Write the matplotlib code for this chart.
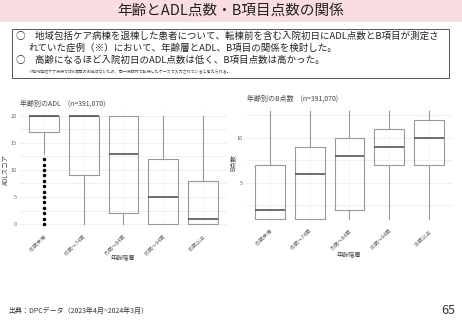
import numpy as np
import matplotlib.pyplot as plt
from matplotlib.patches import Rectangle

plt.rcParams['font.family'] = ['Noto Sans CJK JP', 'DejaVu Sans']

# données
groupes = ["65歳未満", "65歳～74歳", "75歳～84歳", "85歳～94歳", "95歳以上"]

adl_q1 = [17, 9, 2, 0, 0]
adl_med = [20, 20, 13, 5, 1]
adl_q3 = [20, 20, 20, 12, 8]
adl_bas = [13, 0, 0, 0, 0]
adl_haut = [20, 20, 20, 20, 20]
adl_outliers = [list(range(0, 13)), [], [], [], []]

b_q1 = [1, 1, 2, 7, 7]
b_med = [2, 6, 8, 9, 10]
b_q3 = [7, 9, 10, 11, 12]
b_bas = [1, 1, 1, 1, 1]
b_haut = [13, 13, 13, 13, 13]


def stats(q1, med, q3, bas, haut, fl=None):
    out = []
    for i in range(len(q1)):
        out.append(dict(q1=q1[i], med=med[i], q3=q3[i], whislo=bas[i], whishi=haut[i],
                        fliers=fl[i] if fl else []))
    return out


fig = plt.figure(figsize=(4.62, 3.2), dpi=100)

# bandeau titre
fig.patches.append(Rectangle((0, 1 - 22 / 320), 1, 22 / 320, transform=fig.transFigure,
                             facecolor="#fadde3", edgecolor="none", zorder=0))
fig.text(0.5, 1 - 11 / 320, "年齢とADL点数・B項目点数の関係", ha="center", va="center",
         fontsize=10.5, color="#222222")

# encadré
fig.patches.append(Rectangle((12 / 462, 1 - 78 / 320), (449 - 12) / 462, 49 / 320,
                             transform=fig.transFigure, facecolor="white",
                             edgecolor="#555555", linewidth=0.7))
fig.text(16 / 462, 1 - 36 / 320, "○　地域包括ケア病棟を退棟した患者について、転棟前を含む入院初日にADL点数とB項目が測定さ",
         fontsize=6.8, va="center", color="#222222")
fig.text(28 / 462, 1 - 48 / 320, "れていた症例（※）において、年齢層とADL、B項目の関係を検討した。",
         fontsize=6.8, va="center", color="#222222")
fig.text(16 / 462, 1 - 60 / 320, "○　高齢になるほど入院初日のADL点数は低く、B項目点数は高かった。",
         fontsize=6.8, va="center", color="#222222")
fig.text(28 / 462, 1 - 71.5 / 320, "※地域包括ケア病棟ではB項目の測定はないため、同一病院内で転棟したケースで入力されていると考えられる。",
         fontsize=2.9, va="center", color="#444444")

ax1 = fig.add_axes([20.2 / 462, 0.283, 0.447, 0.372])
ax2 = fig.add_axes([246.2 / 462, 0.2997, 0.447, 0.371])

boxprops = dict(color="#999999", linewidth=0.8)
kw = dict(widths=0.75, patch_artist=False, boxprops=boxprops,
          whiskerprops=dict(color="#999999", linewidth=0.8),
          capprops=dict(linewidth=0),
          medianprops=dict(color="#555555", linewidth=1.2),
          flierprops=dict(marker="o", markersize=1.5, markerfacecolor="black",
                          markeredgecolor="black"))

ax1.bxp(stats(adl_q1, adl_med, adl_q3, adl_bas, adl_haut, adl_outliers),
        positions=range(1, 6), **kw)
ax2.bxp(stats(b_q1, b_med, b_q3, b_bas, b_haut), positions=range(1, 6), **kw)

for ax, ylab in [(ax1, "ADLスコア"), (ax2, "B点数")]:
    ax.set_xlim(0.4, 5.6)
    for s in ax.spines.values():
        s.set_visible(False)
    ax.set_xticks(range(1, 6))
    ax.set_xticklabels(groupes, rotation=45, ha="right", rotation_mode="anchor",
                       fontsize=3.8, color="#555555")
    ax.tick_params(axis="y", length=0, pad=2.5, labelsize=4, labelcolor="#666666")
    ax.tick_params(axis="x", length=0, pad=3)
    ax.grid(True, axis="y", which="both", color="#eeeeee", linewidth=0.6)
    ax.grid(True, axis="x", color="#f4f4f4", linewidth=0.5)
    ax.set_axisbelow(True)
    ax.set_xlabel("年齢階層", fontsize=4.4, color="#444444")
    ax.set_ylabel(ylab, fontsize=4.6, color="#444444")
    ax.xaxis.label.set_va("center")
    ax.yaxis.label.set_va("center")

ax1.xaxis.set_label_coords(0.5, -0.245)
ax2.xaxis.set_label_coords(0.5, -0.265)
ax1.yaxis.set_label_coords(-0.07, 0.5)
ax2.yaxis.set_label_coords(-0.066, 0.52)

ax1.set_ylim(-1, 21)
ax1.set_yticks([0, 5, 10, 15, 20])
ax1.set_yticks([2.5, 7.5, 12.5, 17.5], minor=True)
ax1.tick_params(which="minor", length=0)
ax2.set_ylim(0.4, 13.6)
ax2.set_yticks([5, 10])
ax2.set_yticks([2.5, 7.5, 12.5], minor=True)
ax2.tick_params(which="minor", length=0)

fig.text(20 / 462, 1 - 104 / 320, "年齢別のADL　(n=391,070)", fontsize=5, color="#444444", va="center")
fig.text(247 / 462, 1 - 99 / 320, "年齢別のB点数　(n=391,070)", fontsize=5, color="#444444", va="center")

# pied de page
fig.text(8 / 462, 1 - 311 / 320, "出典：DPCデータ（2023年4月~2024年3月）", fontsize=5, color="#333333", va="center")
fig.text(455 / 462, 1 - 310 / 320, "65", fontsize=9, color="#333333", va="center", ha="right")

fig.savefig("out.png", dpi=100)
